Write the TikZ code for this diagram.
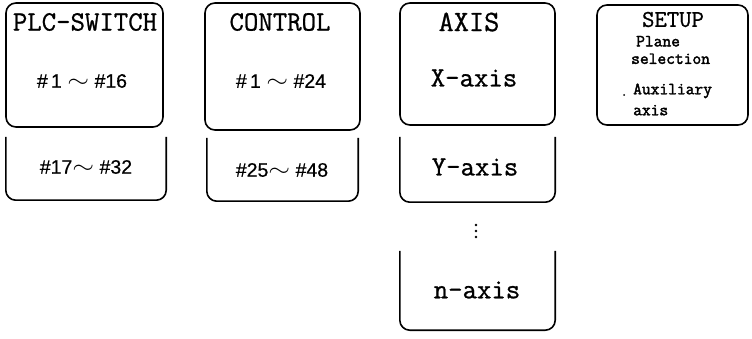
\documentclass[tikz,border=0pt]{standalone}
\usepackage{fontspec}
\setmonofont{Latin Modern Mono}[FakeBold=0.9]
\newfontfamily\smallmono{Latin Modern Mono}[FakeBold=2.2]
\newfontfamily\numfont{Liberation Sans}[FakeBold=0.5]
\newcommand{\wavy}{\scalebox{1.35}[1.1]{$\sim$}}
\begin{document}
\begin{tikzpicture}[x=1pt,y=-1pt,
  box/.style={draw, line width=1.6pt, rounded corners=10pt, inner sep=0pt},
  openframe/.style={inner sep=0pt},
  openline/.style={line width=1.6pt, rounded corners=10pt},
  lbl/.style={font=\ttfamily\fontsize{28}{28}\selectfont, inner sep=0pt},
  num/.style={font=\numfont\fontsize{19.5}{19.5}\selectfont, inner sep=0pt},
  small/.style={font=\smallmono\fontsize{17}{17.5}\selectfont, inner sep=0pt, anchor=west, align=left}]
\useasboundingbox (0,0) rectangle (752,339);

% PLC-SWITCH
\node[box, minimum width=157pt, minimum height=124pt] (plc) at (84.5,65) {};
\node[lbl] (plct) at (85,22) {PLC-SWITCH};
\node[num] (plcn) at (82,81) {\#\,1 \wavy\ \#16};
\node[openframe, minimum width=160pt, minimum height=63pt] (plcb) at (86,168.5) {};
\draw[openline] (plcb.north west) -- (plcb.south west) -- (plcb.south east) -- (plcb.north east);
\node[num] (plcbn) at (86,167) {\#17\wavy\ \#32};

% CONTROL
\node[box, minimum width=155pt, minimum height=127pt] (ctl) at (282.5,66.5) {};
\node[lbl] (ctlt) at (280,22) {CONTROL};
\node[num] (ctln) at (281,81) {\#\,1 \wavy\ \#24};
\node[openframe, minimum width=151pt, minimum height=63pt] (ctlb) at (282.5,169.5) {};
\draw[openline] (ctlb.north west) -- (ctlb.south west) -- (ctlb.south east) -- (ctlb.north east);
\node[num] (ctlbn) at (282,170) {\#25\wavy\ \#48};

% AXIS
\node[box, minimum width=155pt, minimum height=122pt] (axs) at (477.5,64) {};
\node[lbl, font=\ttfamily\fontsize{29.5}{29.5}\selectfont] (axst) at (469,22) {AXIS};
\node[lbl] (xax) at (474,78) {X-axis};
\node[openframe, minimum width=155pt, minimum height=65pt] (yb) at (477.5,169.5) {};
\draw[openline] (yb.north west) -- (yb.south west) -- (yb.south east) -- (yb.north east);
\node[lbl] (yax) at (475,167) {Y-axis};
\fill (476,225) circle (1.3pt) (476,231) circle (1.3pt) (476,237) circle (1.3pt);
\node[openframe, minimum width=155pt, minimum height=79pt] (nb) at (477.5,290.5) {};
\draw[openline] (nb.north west) -- (nb.south west) -- (nb.south east) -- (nb.north east);
\node[lbl] (nax) at (477,290) {n-axis};

% SETUP
\node[box, minimum width=151pt, minimum height=120pt] (stp) at (672.5,65) {};
\node[lbl, font=\ttfamily\fontsize{24}{24}\selectfont] (stpt) at (673,19.5) {SETUP};
\node[small] (pl) at (631,50) {\hspace*{5pt}Plane\\selection};
\node[small, font=\smallmono\fontsize{17}{21}\selectfont] (au) at (633,99.5) {Auxiliary\\axis};
\fill (624,95) circle (1pt);
\end{tikzpicture}
\end{document}
